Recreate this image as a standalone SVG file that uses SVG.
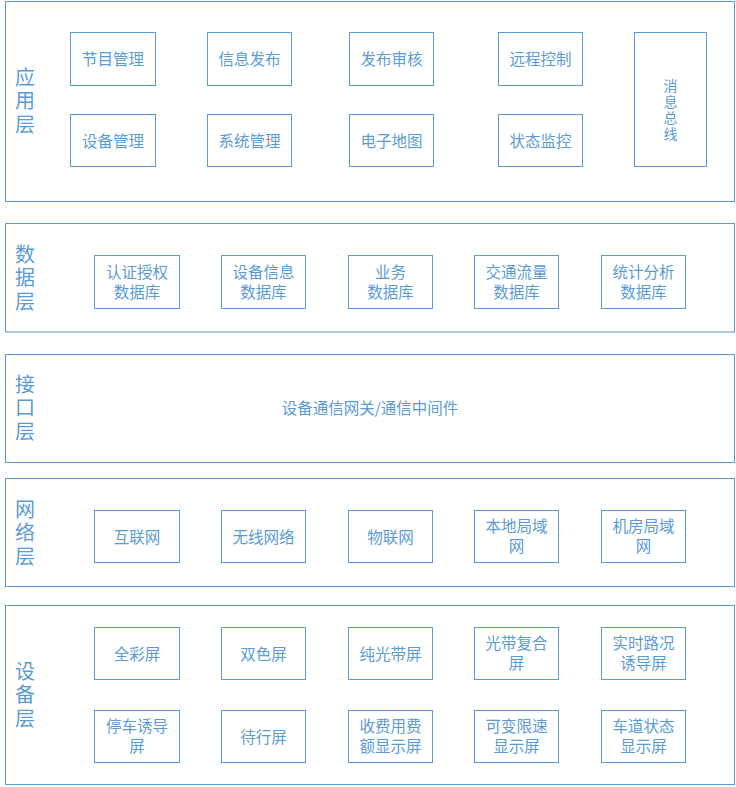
<svg xmlns="http://www.w3.org/2000/svg" width="736" height="787" viewBox="0 0 736 787">
<style>
.layer{fill:#fff;stroke:#5b9bd5;stroke-width:1}
.box{fill:#fff;stroke:#5b9bd5;stroke-width:1}
text{font-family:"Microsoft YaHei","Noto Sans CJK SC",sans-serif;fill:#5b9bd5;text-anchor:middle;dominant-baseline:central;transform:translateY(-1.5px)}
.t{font-size:15.5px}
.v{font-size:14px;writing-mode:vertical-rl;letter-spacing:2px}
.lbl{font-size:20px;writing-mode:vertical-rl;letter-spacing:3.5px}
</style>
<rect width="736" height="787" fill="#fff"/>
<g id="layer-app">
<rect class="layer" x="5.5" y="1.5" width="729" height="200"/>
<text class="lbl" x="25" y="104">应用层</text>
</g>
<g id="n-jmgl"><rect class="box" x="70.5" y="32.5" width="85" height="53"/><text class="t" x="113" y="59">节目管理</text></g>
<g id="n-xxfb"><rect class="box" x="207.5" y="32.5" width="84" height="53"/><text class="t" x="249.5" y="59">信息发布</text></g>
<g id="n-fbsh"><rect class="box" x="349.5" y="32.5" width="84" height="53"/><text class="t" x="391.5" y="59">发布审核</text></g>
<g id="n-yckz"><rect class="box" x="498.5" y="32.5" width="84" height="53"/><text class="t" x="540.5" y="59">远程控制</text></g>
<g id="n-sbgl"><rect class="box" x="70.5" y="114.5" width="85" height="52"/><text class="t" x="113" y="141">设备管理</text></g>
<g id="n-xtgl"><rect class="box" x="207.5" y="114.5" width="84" height="52"/><text class="t" x="249.5" y="141">系统管理</text></g>
<g id="n-dzdt"><rect class="box" x="349.5" y="114.5" width="84" height="52"/><text class="t" x="391.5" y="141">电子地图</text></g>
<g id="n-ztjk"><rect class="box" x="498.5" y="114.5" width="84" height="52"/><text class="t" x="540.5" y="141">状态监控</text></g>
<g id="n-xxzx"><rect class="box" x="634.5" y="32.5" width="72" height="134"/>
<text class="v" x="670.5" y="112">消息总线</text></g>

<g id="layer-data">
<rect class="layer" x="5.5" y="223.5" width="729" height="108.5"/>
<text class="lbl" x="25" y="281">数据层</text>
</g>
<g id="n-rzsq"><rect class="box" x="94.5" y="255.5" width="85" height="53"/><text class="t" x="137" y="272">认证授权</text><text class="t" x="137" y="292">数据库</text></g>
<g id="n-sbxx"><rect class="box" x="221.5" y="255.5" width="84" height="53"/><text class="t" x="263.5" y="272">设备信息</text><text class="t" x="263.5" y="292">数据库</text></g>
<g id="n-yw"><rect class="box" x="348.5" y="255.5" width="84" height="53"/><text class="t" x="390.5" y="272">业务</text><text class="t" x="390.5" y="292">数据库</text></g>
<g id="n-jtll"><rect class="box" x="474.5" y="255.5" width="84" height="53"/><text class="t" x="516.5" y="272">交通流量</text><text class="t" x="516.5" y="292">数据库</text></g>
<g id="n-tjfx"><rect class="box" x="601.5" y="255.5" width="84" height="53"/><text class="t" x="643.5" y="272">统计分析</text><text class="t" x="643.5" y="292">数据库</text></g>

<g id="layer-if">
<rect class="layer" x="5.5" y="354.5" width="729" height="108"/>
<text class="lbl" x="25" y="411">接口层</text>
<text class="t" x="370" y="408">设备通信网关/通信中间件</text>
</g>

<g id="layer-net">
<rect class="layer" x="5.5" y="478.5" width="729" height="108"/>
<text class="lbl" x="25" y="536">网络层</text>
</g>
<g id="n-hlw"><rect class="box" x="94.5" y="510.5" width="85" height="52"/><text class="t" x="137" y="537">互联网</text></g>
<g id="n-wxwl"><rect class="box" x="221.5" y="510.5" width="84" height="52"/><text class="t" x="263.5" y="537">无线网络</text></g>
<g id="n-wlw"><rect class="box" x="348.5" y="510.5" width="84" height="52"/><text class="t" x="390.5" y="537">物联网</text></g>
<g id="n-bdjy"><rect class="box" x="474.5" y="510.5" width="84" height="52"/><text class="t" x="516.5" y="526">本地局域</text><text class="t" x="516.5" y="546">网</text></g>
<g id="n-jfjy"><rect class="box" x="601.5" y="510.5" width="84" height="52"/><text class="t" x="643.5" y="526">机房局域</text><text class="t" x="643.5" y="546">网</text></g>

<g id="layer-dev">
<rect class="layer" x="5.5" y="605.5" width="729" height="179"/>
<text class="lbl" x="25" y="698">设备层</text>
</g>
<g id="n-qcp"><rect class="box" x="94.5" y="627.5" width="85" height="52"/><text class="t" x="137" y="654">全彩屏</text></g>
<g id="n-ssp"><rect class="box" x="221.5" y="627.5" width="84" height="52"/><text class="t" x="263.5" y="654">双色屏</text></g>
<g id="n-cgdp"><rect class="box" x="348.5" y="627.5" width="84" height="52"/><text class="t" x="390.5" y="654">纯光带屏</text></g>
<g id="n-gdfh"><rect class="box" x="474.5" y="627.5" width="84" height="52"/><text class="t" x="516.5" y="643">光带复合</text><text class="t" x="516.5" y="663">屏</text></g>
<g id="n-sslk"><rect class="box" x="601.5" y="627.5" width="84" height="52"/><text class="t" x="643.5" y="643">实时路况</text><text class="t" x="643.5" y="663">诱导屏</text></g>
<g id="n-tcyd"><rect class="box" x="94.5" y="710.5" width="85" height="52"/><text class="t" x="137" y="726">停车诱导</text><text class="t" x="137" y="746">屏</text></g>
<g id="n-dxp"><rect class="box" x="221.5" y="710.5" width="84" height="52"/><text class="t" x="263.5" y="737">待行屏</text></g>
<g id="n-sfyf"><rect class="box" x="348.5" y="710.5" width="84" height="52"/><text class="t" x="390.5" y="726">收费用费</text><text class="t" x="390.5" y="746">额显示屏</text></g>
<g id="n-kbxs"><rect class="box" x="474.5" y="710.5" width="84" height="52"/><text class="t" x="516.5" y="726">可变限速</text><text class="t" x="516.5" y="746">显示屏</text></g>
<g id="n-cdzt"><rect class="box" x="601.5" y="710.5" width="84" height="52"/><text class="t" x="643.5" y="726">车道状态</text><text class="t" x="643.5" y="746">显示屏</text></g>
<g id="connectors"></g>
</svg>
